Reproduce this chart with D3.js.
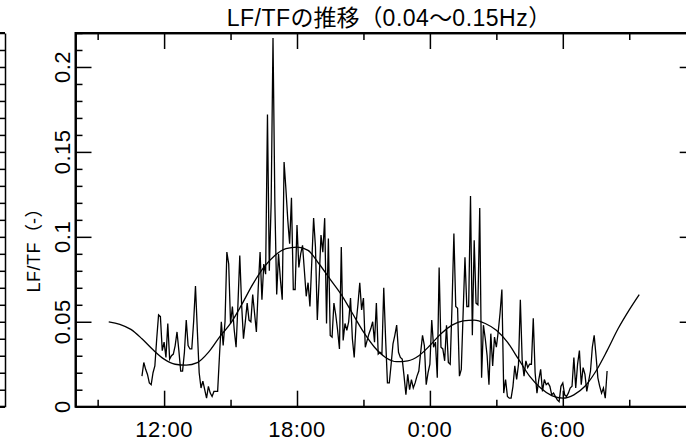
<!DOCTYPE html>
<html lang="ja">
<head>
<meta charset="utf-8">
<title>LF/TFの推移</title>
<script src="https://cdn.jsdelivr.net/npm/d3@7"></script>
<style>
  html, body { margin: 0; padding: 0; background: #fff; }
  svg { display: block; }
  text { font-family: "Liberation Sans", "Noto Sans CJK JP", sans-serif; fill: #000; }
</style>
</head>
<body>
<div id="chart"></div>
<script>
// ---- data ----
const title = 'LF/TFの推移（0.04～0.15Hz）';
const yLabel = 'LF/TF（-）';

// LF/TF samples, every 5 minutes from 11:00 to 8:00 next day
const startHour = 11;
const stepMinutes = 5;
const lfValues = [
  0.018, 0.026, 0.022, 0.019, 0.014, 0.013, 0.020, 0.024, 0.040, 0.054,
  0.053, 0.033, 0.038, 0.029, 0.049, 0.028, 0.030, 0.031, 0.036, 0.044,
  0.033, 0.021, 0.021, 0.032, 0.051, 0.036, 0.034, 0.034, 0.050, 0.071,
  0.045, 0.020, 0.011, 0.015, 0.010, 0.005, 0.012, 0.008, 0.006, 0.009,
  0.009, 0.009, 0.030, 0.050, 0.036, 0.050, 0.091, 0.084, 0.049, 0.059,
  0.045, 0.035, 0.060, 0.089, 0.060, 0.040, 0.050, 0.061, 0.051, 0.050,
  0.066, 0.055, 0.044, 0.070, 0.091, 0.063, 0.084, 0.078, 0.172, 0.080,
  0.120, 0.217, 0.120, 0.066, 0.090, 0.075, 0.063, 0.144, 0.128, 0.110,
  0.096, 0.123, 0.069, 0.069, 0.107, 0.082, 0.090, 0.095, 0.080, 0.065,
  0.073, 0.059, 0.085, 0.111, 0.094, 0.051, 0.075, 0.101, 0.091, 0.111,
  0.049, 0.099, 0.042, 0.041, 0.061, 0.054, 0.045, 0.034, 0.094, 0.039,
  0.049, 0.045, 0.050, 0.064, 0.040, 0.029, 0.049, 0.060, 0.073, 0.057,
  0.064, 0.035, 0.039, 0.043, 0.046, 0.050, 0.038, 0.061, 0.031, 0.032,
  0.031, 0.070, 0.040, 0.014, 0.014, 0.025, 0.037, 0.042, 0.048, 0.032,
  0.029, 0.028, 0.018, 0.007, 0.019, 0.010, 0.016, 0.011, 0.014, 0.018,
  0.021, 0.032, 0.042, 0.036, 0.013, 0.020, 0.025, 0.051, 0.035, 0.038,
  0.017, 0.082, 0.035, 0.034, 0.027, 0.048, 0.026, 0.025, 0.060, 0.102,
  0.059, 0.058, 0.018, 0.022, 0.055, 0.088, 0.059, 0.059, 0.124, 0.042,
  0.098, 0.061, 0.060, 0.117, 0.017, 0.048, 0.040, 0.030, 0.013, 0.043,
  0.024, 0.041, 0.035, 0.044, 0.055, 0.069, 0.008, 0.016, 0.006, 0.005,
  0.005, 0.012, 0.024, 0.016, 0.025, 0.063, 0.027, 0.018, 0.027, 0.023,
  0.025, 0.025, 0.052, 0.020, 0.008, 0.016, 0.022, 0.009, 0.016, 0.013,
  0.014, 0.012, 0.007, 0.008, 0.006, 0.004, 0.003, 0.012, 0.014, 0.007,
  0.006, 0.008, 0.011, 0.012, 0.029, 0.011, 0.025, 0.033, 0.013, 0.023,
  0.019, 0.009, 0.015, 0.021, 0.035, 0.042, 0.030, 0.017, 0.012, 0.008,
  0.011, 0.005, 0.021
];

// fitted 24h rhythm curve (hours since 0:00 of day 1)
const fitHours = [
  9.5, 10, 10.5, 11, 11.5, 12, 12.5, 13, 13.5, 14, 14.5, 15, 15.5, 16, 16.5,
  17, 17.5, 18, 18.5, 19, 19.5, 20, 20.5, 21, 21.5, 22, 22.5, 23, 23.5, 24,
  24.5, 25, 25.5, 26, 26.5, 27, 27.5, 28, 28.5, 29, 29.5, 30, 30.5, 31, 31.5,
  32, 32.5, 33, 33.45
];
const fitValues = [
  0.050, 0.0485, 0.0455, 0.040, 0.0335, 0.028, 0.025, 0.0245, 0.026, 0.032, 0.041,
  0.049, 0.060, 0.072, 0.082, 0.089, 0.093, 0.094, 0.092, 0.084, 0.075,
  0.066, 0.055, 0.044, 0.035, 0.029, 0.0265, 0.027, 0.030, 0.036,
  0.043, 0.048, 0.0505, 0.051, 0.049, 0.045, 0.038, 0.028, 0.018, 0.011,
  0.0065, 0.005, 0.007, 0.012, 0.021, 0.033, 0.046, 0.057, 0.066
];

const xMajorTicks = [12, 18, 24, 30];
const xMinorTicks = [9, 15, 21, 27, 33];
const xTickLabels = ['12:00', '18:00', '0:00', '6:00'];
const yMajorTicks = [0, 0.05, 0.1, 0.15, 0.2];
const yTickLabels = ['0', '0.05', '0.1', '0.15', '0.2'];

// ---- layout ----
const width = 686, height = 443;
const plot = { left: 75.5, right: 695.7, top: 33, bottom: 406.7 };

const svg = d3.select('#chart').append('svg')
  .attr('width', width)
  .attr('height', height)
  .attr('viewBox', `0 0 ${width} ${height}`);

svg.append('rect').attr('width', width).attr('height', height).attr('fill', '#fff');

const x = d3.scaleLinear().domain([8, 36]).range([plot.left, plot.right]);
const y = d3.scaleLinear().domain([0, 0.22]).range([plot.bottom, plot.top]);

// minor y ticks every 0.01
const yMinorTicks = d3.range(0, 0.2201, 0.01).filter(v => !yMajorTicks.some(m => Math.abs(m - v) < 1e-9));

function styleAxis(g) {
  g.selectAll('path, line').attr('stroke', '#000').attr('stroke-width', 1.5);
  g.selectAll('text').remove();
}

// latin runs in a thin sans with a little tracking, full-width runs in the CJK font
function cellText(sel, str, size) {
  sel.style('font-size', `${size}px`);
  str.match(/[\x00-\x7f]+|[^\x00-\x7f]+/g).forEach(run => {
    const ascii = /^[\x00-\x7f]/.test(run);
    sel.append('tspan')
      .style('font-family', ascii ? '"Liberation Sans", sans-serif' : '"Noto Sans CJK JP", sans-serif')
      .style('letter-spacing', ascii ? '0.5px' : '0px')
      .text(run);
  });
}

// bottom: ticks pointing up into the plot
const axisB = svg.append('g').attr('transform', `translate(0,${plot.bottom})`);
axisB.append('g').call(d3.axisTop(x).tickValues(xMajorTicks).tickSize(16).tickSizeOuter(0)).call(styleAxis);
axisB.append('g').call(d3.axisTop(x).tickValues(xMinorTicks).tickSize(7).tickSizeOuter(0)).call(styleAxis);

// top: ticks pointing down
const axisT = svg.append('g').attr('transform', `translate(0,${plot.top})`);
axisT.append('g').call(d3.axisBottom(x).tickValues(xMajorTicks).tickSize(16).tickSizeOuter(0)).call(styleAxis);
axisT.append('g').call(d3.axisBottom(x).tickValues(xMinorTicks).tickSize(7).tickSizeOuter(0)).call(styleAxis);

// left: ticks pointing right
const axisL = svg.append('g').attr('transform', `translate(${plot.left},0)`);
axisL.append('g').call(d3.axisRight(y).tickValues(yMajorTicks).tickSize(16).tickSizeOuter(0)).call(styleAxis);
axisL.append('g').call(d3.axisRight(y).tickValues(yMinorTicks).tickSize(7).tickSizeOuter(0)).call(styleAxis);

// right: ticks pointing left
const axisR = svg.append('g').attr('transform', `translate(${plot.right},0)`);
axisR.append('g').call(d3.axisLeft(y).tickValues(yMajorTicks).tickSize(16).tickSizeOuter(0)).call(styleAxis);
axisR.append('g').call(d3.axisLeft(y).tickValues(yMinorTicks).tickSize(7).tickSizeOuter(0)).call(styleAxis);

// x tick labels
svg.append('g').selectAll('text')
  .data(xMajorTicks)
  .join('text')
  .attr('x', d => x(d))
  .attr('y', 437)
  .attr('text-anchor', 'middle')
  .each(function (d, i) { cellText(d3.select(this), xTickLabels[i], 22); });

// y tick labels (rotated)
svg.append('g').selectAll('text')
  .data(yMajorTicks)
  .join('text')
  .attr('transform', d => `translate(70,${y(d)}) rotate(-90)`)
  .attr('text-anchor', 'middle')
  .each(function (d, i) { cellText(d3.select(this), yTickLabels[i], 22); });

// y axis title
svg.append('text')
  .attr('transform', 'translate(40,246) rotate(-90)')
  .attr('text-anchor', 'middle')
  .call(cellText, yLabel, 18);

// chart title
svg.append('text')
  .attr('x', 389)
  .attr('y', 26)
  .attr('text-anchor', 'middle')
  .call(cellText, title, 23);

// ---- series ----
svg.append('clipPath').attr('id', 'plot-clip')
  .append('rect')
  .attr('x', plot.left).attr('y', plot.top)
  .attr('width', plot.right - plot.left).attr('height', plot.bottom - plot.top);

const lfLine = d3.line()
  .x((d, i) => x(startHour + i * stepMinutes / 60))
  .y(d => y(d));

svg.append('path')
  .datum(lfValues)
  .attr('clip-path', 'url(#plot-clip)')
  .attr('fill', 'none')
  .attr('stroke', '#000')
  .attr('stroke-width', 1.3)
  .attr('d', lfLine);

const fitLine = d3.line()
  .curve(d3.curveMonotoneX)
  .x((d, i) => x(fitHours[i]))
  .y(d => y(d));

svg.append('path')
  .datum(fitValues)
  .attr('fill', 'none')
  .attr('stroke', '#000')
  .attr('stroke-width', 1.3)
  .attr('d', fitLine);

// frame
svg.append('rect')
  .attr('x', plot.left).attr('y', plot.top)
  .attr('width', plot.right - plot.left).attr('height', plot.bottom - plot.top)
  .attr('fill', 'none')
  .attr('stroke', '#000')
  .attr('stroke-width', 2);

// edge of the neighbouring panel on the left
const prevY = d3.scaleLinear().domain([0, 22]).range([plot.bottom, plot.top]);
const prev = svg.append('g').attr('transform', 'translate(5,0)');
prev.append('g').call(d3.axisLeft(prevY).ticks(22).tickSize(8).tickSizeOuter(0)).call(styleAxis);
prev.append('line').attr('x1', -8).attr('x2', 0).attr('y1', plot.top).attr('y2', plot.top)
  .attr('stroke', '#000').attr('stroke-width', 2);
prev.append('line').attr('x1', -8).attr('x2', 0).attr('y1', plot.bottom).attr('y2', plot.bottom)
  .attr('stroke', '#000').attr('stroke-width', 2);
</script>
</body>
</html>
